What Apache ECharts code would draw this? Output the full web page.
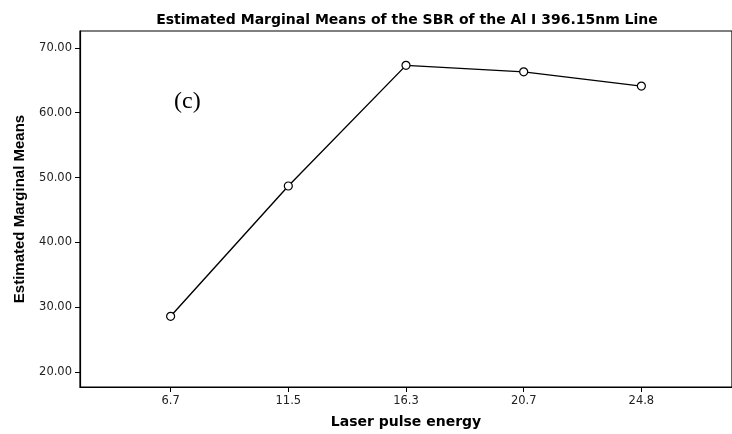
<!DOCTYPE html>
<html>
<head>
<meta charset="utf-8">
<script src="https://cdn.jsdelivr.net/npm/echarts@6/dist/echarts.min.js"></script>
<style>html,body{margin:0;padding:0;background:#fff}#c{width:732px;height:434px}</style>
</head>
<body>
<div id="c"></div>
<script>
const categories = ['6.7', '11.5', '16.3', '20.7', '24.8'];
const means = [28.6, 48.7, 67.3, 66.3, 64.1];
const yTicks = [20, 30, 40, 50, 60, 70];

const chart = echarts.init(document.getElementById('c'));
const idx = categories.map((_, i) => i);
const labelFont = {fontFamily: 'DejaVu Sans', fontSize: 11.5, color: '#222'};
chart.setOption({
  animation: false,
  backgroundColor: '#fff',
  title: [{
    text: 'Estimated Marginal Means of the SBR of the Al I 396.15nm Line',
    left: 402, top: 8, textAlign: 'center',
    textStyle: {fontFamily: 'DejaVu Sans', fontWeight: 'bold', fontSize: 14, color: '#000'}
  }, {
    text: '(c)', left: 169, top: 85,
    textStyle: {fontFamily: 'Liberation Serif, Times New Roman', fontWeight: 'normal', fontSize: 24, color: '#000'}
  }],
  grid: {left: 80, top: 31, right: -10, bottom: 41, show: true, borderColor: '#000', borderWidth: 1.2},
  xAxis: {
    type: 'value', min: -0.77, max: 4.77,
    name: 'Laser pulse energy', nameLocation: 'middle', nameGap: 28,
    nameTextStyle: {fontFamily: 'DejaVu Sans', fontWeight: 'bold', fontSize: 14, color: '#000'},
    axisLine: {onZero: false, lineStyle: {color: '#000', width: 1.2}},
    axisTick: {show: true, length: 5, lineStyle: {color: '#000'}, customValues: idx},
    axisLabel: Object.assign({customValues: idx, formatter: v => categories[Math.round(v)], margin: 8}, labelFont),
    splitLine: {show: false}
  },
  yAxis: {
    type: 'value', min: 17.7, max: 72.6,
    name: 'Estimated Marginal Means', nameLocation: 'middle', nameGap: 53,
    nameTextStyle: {fontFamily: 'Liberation Sans Narrow, Liberation Sans, Arial', fontWeight: 'bold', fontSize: 15, color: '#000'},
    axisLine: {show: true, onZero: false, lineStyle: {color: '#000', width: 1.2}},
    axisTick: {show: true, length: 5, lineStyle: {color: '#000'}, customValues: yTicks},
    axisLabel: Object.assign({customValues: yTicks, formatter: v => v.toFixed(2), margin: 8}, labelFont),
    splitLine: {show: false}
  },
  series: [{
    type: 'line',
    data: means.map((v, i) => [i, v]),
    symbol: 'circle', symbolSize: 8,
    itemStyle: {color: '#fff', borderColor: '#000', borderWidth: 1.2},
    lineStyle: {color: '#000', width: 1.4}
  }]
});
</script>
</body>
</html>
